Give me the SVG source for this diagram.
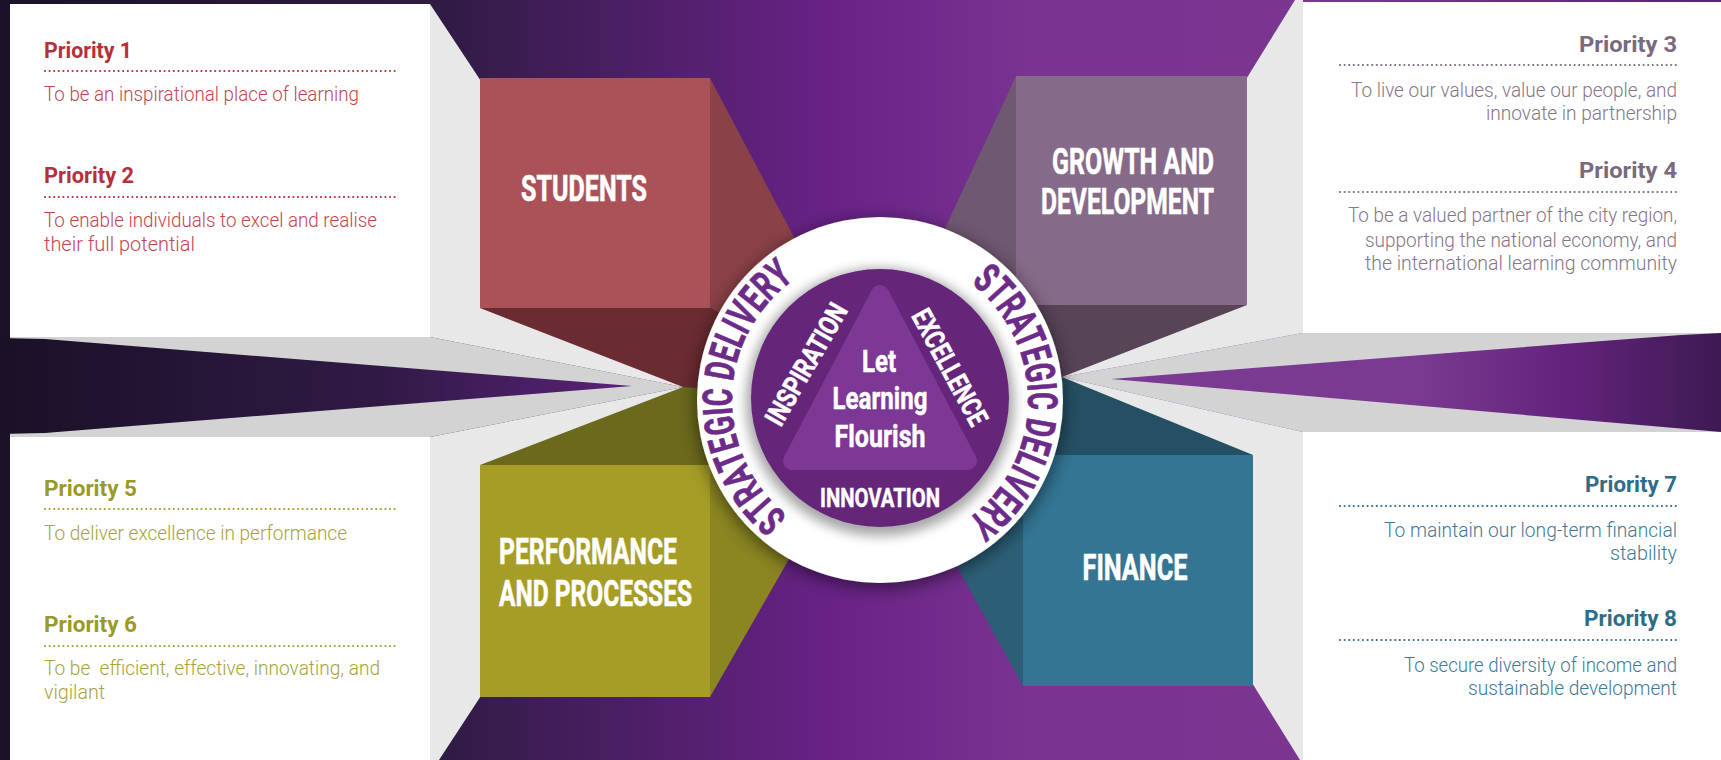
<svg xmlns="http://www.w3.org/2000/svg" width="1721" height="760" viewBox="0 0 1721 760">
  <defs>
    <style>
      .ttl { font-family: Roboto, "Liberation Sans", sans-serif; font-weight: 700; fill: #ffffff; stroke: #ffffff; stroke-width: 0.6px; font-size: 36px; }
      .pr { font-family: Roboto, "Liberation Sans", sans-serif; font-weight: 700; font-size: 22px; }
      .bd { font-family: Roboto, "Liberation Sans", sans-serif; font-weight: 300; font-size: 20px; }
      .hub { font-family: Roboto, "Liberation Sans", sans-serif; font-weight: 700; fill: #ffffff; stroke: #ffffff; stroke-width: 0.5px; }
      .arc { font-family: Roboto, "Liberation Sans", sans-serif; font-weight: 700; fill: #6c2b88; stroke: #6c2b88; stroke-width: 0.7px; font-size: 41px; }
      .dot { fill: none; stroke-width: 2.2; stroke-linecap: round; stroke-dasharray: 0 4.6; }
      .panel { fill: #ffffff; }
      .side { fill: #e8e8e8; }
      .band { fill: #d3d3d3; }
      .red { fill: #b5303a; } .redb { fill: #c2464f; }
      .olv { fill: #9c9a26; } .olvb { fill: #a6a43a; }
      .gry { fill: #7a6a7d; } .gryb { fill: #857688; }
      .tea { fill: #2e6c88; } .teab { fill: #3e7a96; }
    </style>
    <linearGradient id="bg" x1="0" y1="0" x2="1721" y2="0" gradientUnits="userSpaceOnUse">
      <stop offset="0" stop-color="#1b1128"/>
      <stop offset="0.25" stop-color="#2e1b42"/>
      <stop offset="0.36" stop-color="#4a1f63"/>
      <stop offset="0.48" stop-color="#682286"/>
      <stop offset="0.6" stop-color="#793391"/>
      <stop offset="0.76" stop-color="#7a3691"/>
      <stop offset="1" stop-color="#5a2370"/>
    </linearGradient>
    <linearGradient id="spL" x1="0" y1="0" x2="632" y2="0" gradientUnits="userSpaceOnUse">
      <stop offset="0" stop-color="#1a1027"/>
      <stop offset="0.6" stop-color="#301a45"/>
      <stop offset="1" stop-color="#5b2179"/>
    </linearGradient>
    <linearGradient id="spR" x1="1111" y1="0" x2="1721" y2="0" gradientUnits="userSpaceOnUse">
      <stop offset="0" stop-color="#7c3b93"/>
      <stop offset="0.5" stop-color="#7a3a91"/>
      <stop offset="0.75" stop-color="#63237c"/>
      <stop offset="1" stop-color="#3d1a52"/>
    </linearGradient>
    <filter id="sh" x="-20%" y="-20%" width="140%" height="140%">
      <feDropShadow dx="0" dy="4" stdDeviation="9" flood-color="#000" flood-opacity="0.55"/>
    </filter>
    <filter id="blur" x="-20%" y="-20%" width="140%" height="140%">
      <feGaussianBlur stdDeviation="6"/>
    </filter>
    <path id="arcL" d="M797.2,522.7 A148,148 0 0 1 803.8,273.1"/>
    <path id="arcR" d="M961.5,276.4 A148,148 0 0 1 957.6,526.1"/>
  </defs>

  <rect x="0" y="0" width="1721" height="760" fill="url(#bg)"/>

  <g id="perspective">
    <polygon class="band" points="10,337 430,337 683,387 430,437 10,437"/>
    <polygon points="0,338 45,339 632,386 45,433 0,434" fill="url(#spL)"/>
    <polygon class="side" points="430,4 683,387 430,337"/>
    <polygon class="side" points="430,437 683,387 439,760 430,760"/>
    <polygon class="band" points="1303,333 1721,333 1721,432 1303,432 1062,377"/>
    <polygon points="1721,333 1681,335 1111,379 1721,432" fill="url(#spR)"/>
    <polygon class="side" points="1295,0 1303,0 1303,333 1062,377"/>
    <polygon class="side" points="1303,432 1303,760 1300,760 1062,377"/>
  </g>

  <g id="priorities-1-2">
    <rect class="panel" x="10" y="4" width="420" height="333"/>
    <text class="pr red" x="44" y="58" textLength="88" lengthAdjust="spacingAndGlyphs">Priority 1</text>
    <line class="dot" x1="45" y1="71" x2="395" y2="71" stroke="#b5303a"/>
    <text class="bd redb" x="44" y="101" textLength="315" lengthAdjust="spacingAndGlyphs">To be an inspirational place of learning</text>
    <text class="pr red" x="44" y="183" textLength="90" lengthAdjust="spacingAndGlyphs">Priority 2</text>
    <line class="dot" x1="45" y1="197" x2="395" y2="197" stroke="#b5303a"/>
    <text class="bd redb" x="44" y="227" textLength="333" lengthAdjust="spacingAndGlyphs">To enable individuals to excel and realise</text>
    <text class="bd redb" x="44" y="251" textLength="151" lengthAdjust="spacingAndGlyphs">their full potential</text>
  </g>

  <g id="priorities-5-6">
    <rect class="panel" x="10" y="437" width="420" height="323"/>
    <text class="pr olv" x="44" y="496" textLength="93" lengthAdjust="spacingAndGlyphs">Priority 5</text>
    <line class="dot" x1="45" y1="509" x2="399" y2="509" stroke="#a09e2c"/>
    <text class="bd olvb" x="44" y="540" textLength="303" lengthAdjust="spacingAndGlyphs">To deliver excellence in performance</text>
    <text class="pr olv" x="44" y="632" textLength="93" lengthAdjust="spacingAndGlyphs">Priority 6</text>
    <line class="dot" x1="45" y1="646" x2="399" y2="646" stroke="#a09e2c"/>
    <text class="bd olvb" x="44" y="675" textLength="336" lengthAdjust="spacingAndGlyphs" xml:space="preserve">To be  efficient, effective, innovating, and</text>
    <text class="bd olvb" x="44" y="699" textLength="61" lengthAdjust="spacingAndGlyphs">vigilant</text>
  </g>

  <g id="priorities-3-4">
    <rect class="panel" x="1303" y="2" width="418" height="331"/>
    <g text-anchor="end">
      <text class="pr gry" x="1677" y="52" textLength="98" lengthAdjust="spacingAndGlyphs">Priority 3</text>
      <line class="dot" x1="1340" y1="65" x2="1677" y2="65" stroke="#7a6a7d"/>
      <text class="bd gryb" x="1677" y="97" textLength="326" lengthAdjust="spacingAndGlyphs">To live our values, value our people, and</text>
      <text class="bd gryb" x="1677" y="120" textLength="191" lengthAdjust="spacingAndGlyphs">innovate in partnership</text>
      <text class="pr gry" x="1677" y="178" textLength="98" lengthAdjust="spacingAndGlyphs">Priority 4</text>
      <line class="dot" x1="1340" y1="192" x2="1677" y2="192" stroke="#7a6a7d"/>
      <text class="bd gryb" x="1677" y="222" textLength="329" lengthAdjust="spacingAndGlyphs">To be a valued partner of the city region,</text>
      <text class="bd gryb" x="1677" y="247" textLength="312" lengthAdjust="spacingAndGlyphs">supporting the national economy, and</text>
      <text class="bd gryb" x="1677" y="270" textLength="312" lengthAdjust="spacingAndGlyphs">the international learning community</text>
    </g>
  </g>

  <g id="priorities-7-8">
    <rect class="panel" x="1303" y="432" width="418" height="328"/>
    <g text-anchor="end">
      <text class="pr tea" x="1677" y="492" textLength="92" lengthAdjust="spacingAndGlyphs">Priority 7</text>
      <line class="dot" x1="1340" y1="506" x2="1677" y2="506" stroke="#2e6c88"/>
      <text class="bd teab" x="1677" y="537" textLength="293" lengthAdjust="spacingAndGlyphs">To maintain our long-term financial</text>
      <text class="bd teab" x="1677" y="560" textLength="67" lengthAdjust="spacingAndGlyphs">stability</text>
      <text class="pr tea" x="1677" y="626" textLength="93" lengthAdjust="spacingAndGlyphs">Priority 8</text>
      <line class="dot" x1="1340" y1="640" x2="1677" y2="640" stroke="#2e6c88"/>
      <text class="bd teab" x="1677" y="672" textLength="273" lengthAdjust="spacingAndGlyphs">To secure diversity of income and</text>
      <text class="bd teab" x="1677" y="695" textLength="209" lengthAdjust="spacingAndGlyphs">sustainable development</text>
    </g>
  </g>

  <g id="students">
    <polygon points="710,78 880,400 710,308" fill="#8a4147"/>
    <polygon points="480,308 710,308 880,400 683,387" fill="#6a2b31"/>
    <rect x="480" y="78" width="230" height="230" fill="#ab5259"/>
    <text class="ttl" x="584" y="201" text-anchor="middle" textLength="126" lengthAdjust="spacingAndGlyphs">STUDENTS</text>
  </g>

  <g id="growth-and-development">
    <polygon points="1016,76 865,400 1016,305" fill="#6f5871"/>
    <polygon points="1016,305 1247,305 1062,377 865,400" fill="#574457"/>
    <rect x="1016" y="76" width="231" height="229" fill="#866a89"/>
    <text class="ttl" x="1214" y="174" text-anchor="end" textLength="162" lengthAdjust="spacingAndGlyphs">GROWTH AND</text>
    <text class="ttl" x="1214" y="214" text-anchor="end" textLength="173" lengthAdjust="spacingAndGlyphs">DEVELOPMENT</text>
  </g>

  <g id="performance-and-processes">
    <polygon points="480,465 710,465 880,400 683,387" fill="#6b691c"/>
    <polygon points="710,465 710,697 880,400" fill="#8b8621"/>
    <rect x="480" y="465" width="230" height="232" fill="#a69d27"/>
    <text class="ttl" x="499" y="564" textLength="178" lengthAdjust="spacingAndGlyphs">PERFORMANCE</text>
    <text class="ttl" x="499" y="606" textLength="193" lengthAdjust="spacingAndGlyphs">AND PROCESSES</text>
  </g>

  <g id="finance">
    <polygon points="1023,455 1253,455 1062,377 865,400" fill="#255064"/>
    <polygon points="1023,455 1023,686 865,400" fill="#2c5f77"/>
    <rect x="1023" y="455" width="230" height="231" fill="#337593"/>
    <text class="ttl" x="1135" y="580" text-anchor="middle" textLength="105" lengthAdjust="spacingAndGlyphs">FINANCE</text>
  </g>

  <g id="hub">
    <circle cx="880" cy="400" r="183" fill="#ffffff" filter="url(#sh)"/>
    <circle cx="880" cy="402" r="134" fill="#000000" opacity="0.35" filter="url(#blur)"/>
    <circle cx="880" cy="398" r="129" fill="#65267a"/>
    <polygon points="880,294 792,461 968,461" fill="#7d3795" stroke="#7d3795" stroke-width="18" stroke-linejoin="round"/>
    <text class="arc"><textPath href="#arcL" startOffset="50%" text-anchor="middle" textLength="274" lengthAdjust="spacingAndGlyphs">STRATEGIC DELIVERY</textPath></text>
    <text class="arc"><textPath href="#arcR" startOffset="50%" text-anchor="middle" textLength="274" lengthAdjust="spacingAndGlyphs">STRATEGIC DELIVERY</textPath></text>
    <text class="hub" font-size="28" text-anchor="middle" transform="translate(806,364) rotate(-60)" y="10" textLength="136" lengthAdjust="spacingAndGlyphs">INSPIRATION</text>
    <text class="hub" font-size="28" text-anchor="middle" transform="translate(950,367) rotate(61.6)" y="10" textLength="128" lengthAdjust="spacingAndGlyphs">EXCELLENCE</text>
    <text class="hub" font-size="26" x="880" y="507" text-anchor="middle" textLength="120" lengthAdjust="spacingAndGlyphs">INNOVATION</text>
    <text class="hub" font-size="31" x="879" y="372" text-anchor="middle" textLength="34" lengthAdjust="spacingAndGlyphs">Let</text>
    <text class="hub" font-size="31" x="880" y="409" text-anchor="middle" textLength="95" lengthAdjust="spacingAndGlyphs">Learning</text>
    <text class="hub" font-size="31" x="880" y="447" text-anchor="middle" textLength="91" lengthAdjust="spacingAndGlyphs">Flourish</text>
  </g>
</svg>
